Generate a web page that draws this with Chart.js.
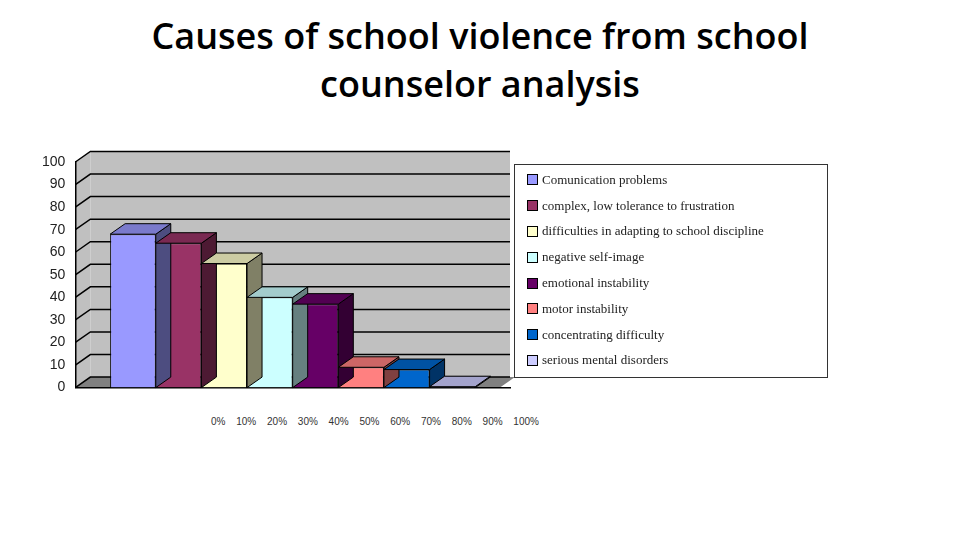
<!DOCTYPE html>
<html><head><meta charset="utf-8">
<script src="https://cdn.jsdelivr.net/npm/chart.js@4"></script>
<style>
body{margin:0;width:960px;height:540px;background:#fff;position:relative;font-family:Calibri,"Liberation Sans",sans-serif;overflow:hidden}
h1{position:absolute;top:12px;left:0;width:960px;text-align:center;margin:0;font-family:"Open Sans","Liberation Sans",sans-serif;font-weight:600;font-size:36px;line-height:48px;color:#000}
#wrap{position:absolute;left:40px;top:148px;width:480px;height:250px}
#leg{position:absolute;left:514px;top:164px;width:314px;height:214px;border:1.5px solid #333;box-sizing:border-box;font-family:"Liberation Serif",serif;font-size:13px;color:#222;padding-top:2px}
#leg div{height:25.8px;display:flex;align-items:center;padding-left:12px}
#leg span{display:inline-block;width:9px;height:9px;border:1px solid #000;margin-right:4px}
#pct{position:absolute;left:211px;top:416px;font-family:"Liberation Sans",sans-serif;font-size:10px;color:#333;word-spacing:8px}
</style></head><body>
<h1>Causes of school violence from school<br>counselor analysis</h1>
<div id="wrap"><canvas id="c"></canvas></div>
<div id="leg"></div>
<div id="pct">0% 10% 20% 30% 40% 50% 60% 70% 80% 90% 100%</div>
<script>
const causes = ['Comunication problems','complex, low tolerance to frustration','difficulties in adapting to school discipline','negative self-image','emotional instability','motor instability','concentrating difficulty','serious mental disorders'];
const values = [68, 64, 55, 40, 37, 9, 8, 0.4];
const colors = ['#9999ff','#993366','#ffffcc','#ccffff','#660066','#ff8080','#0066cc','#ccccff'];
const yTicks = [0,10,20,30,40,50,60,70,80,90,100];

function shade(hex, f){
  const n = parseInt(hex.slice(1),16);
  const r=(n>>16)&255,g=(n>>8)&255,b=n&255;
  return `rgb(${Math.round(r*f)},${Math.round(g*f)},${Math.round(b*f)})`;
}

const leg = document.getElementById('leg');
causes.forEach((c,i)=>{ leg.innerHTML += `<div><span style="background:${colors[i]}"></span>${c}</div>`; });

const depth = 15;
const bg = {
  id:'bg',
  beforeDraw(chart){
    const {ctx, chartArea:a} = chart;
    ctx.save();
    ctx.fillStyle = '#c0c0c0';
    ctx.beginPath();
    ctx.moveTo(a.left, a.bottom); ctx.lineTo(a.left+depth, a.bottom-depth*0.7);
    ctx.lineTo(a.left+depth, a.top-depth*0.7); ctx.lineTo(a.left, a.top); ctx.closePath(); ctx.fill();
    ctx.fillRect(a.left+depth, a.top-depth*0.7, a.right-a.left-depth, a.bottom-a.top);
    ctx.fillStyle = '#808080';
    ctx.beginPath();
    ctx.moveTo(a.left, a.bottom); ctx.lineTo(a.left+depth, a.bottom-depth*0.7);
    ctx.lineTo(a.right+depth-10, a.bottom-depth*0.7); ctx.lineTo(a.right-10, a.bottom); ctx.closePath(); ctx.fill();
    const y = chart.scales.y;
    ctx.strokeStyle = '#000'; ctx.lineWidth = 1.5;
    yTicks.forEach(t=>{
      const py = y.getPixelForValue(t);
      ctx.beginPath(); ctx.moveTo(a.left, py); ctx.lineTo(a.left+depth, py-depth*0.7); ctx.lineTo(a.right, py-depth*0.7); ctx.stroke();
    });
    ctx.restore();
  },
  afterDatasetsDraw(chart){
    const ctx = chart.ctx;
    ctx.save(); ctx.strokeStyle='#000'; ctx.lineWidth=1;
    chart.data.datasets.forEach((ds,i)=>{
      const bar = chart.getDatasetMeta(i).data[0];
      const l = bar.x - bar.width/2, r = bar.x + bar.width/2, t = bar.y, b = bar.base;
      const dx = depth, dy = depth*0.7;
      ctx.fillStyle = shade(colors[i],0.5);
      ctx.beginPath(); ctx.moveTo(r,t); ctx.lineTo(r+dx,t-dy); ctx.lineTo(r+dx,b-dy); ctx.lineTo(r,b); ctx.closePath(); ctx.fill(); ctx.stroke();
      ctx.fillStyle = shade(colors[i],0.8);
      ctx.beginPath(); ctx.moveTo(l,t); ctx.lineTo(l+dx,t-dy); ctx.lineTo(r+dx,t-dy); ctx.lineTo(r,t); ctx.closePath(); ctx.fill(); ctx.stroke();
    });
    ctx.restore();
  }
};

new Chart(document.getElementById('c'), {
  type:'bar',
  data:{
    labels:[''],
    datasets: causes.map((c,i)=>({label:c, data:[values[i]], backgroundColor:colors[i], borderColor:'#000', borderWidth:1}))
  },
  options:{
    responsive:true, maintainAspectRatio:false, animation:false,
    layout:{padding:{top:14,right:10}},
    plugins:{legend:{display:false}, tooltip:{enabled:false}},
    datasets:{bar:{barPercentage:1, categoryPercentage:0.84}},
    scales:{
      x:{grid:{display:false}, border:{color:'#000',width:1.5}, ticks:{display:false}},
      y:{min:0,max:100, afterBuildTicks:s=>{s.ticks=yTicks.map(v=>({value:v}));},
         grid:{display:false, drawTicks:true}, border:{color:'#000',width:1.5},
         ticks:{color:'#222', font:{family:'Liberation Sans',size:14}, padding:2}}
    }
  },
  plugins:[bg]
});
</script>
</body></html>
